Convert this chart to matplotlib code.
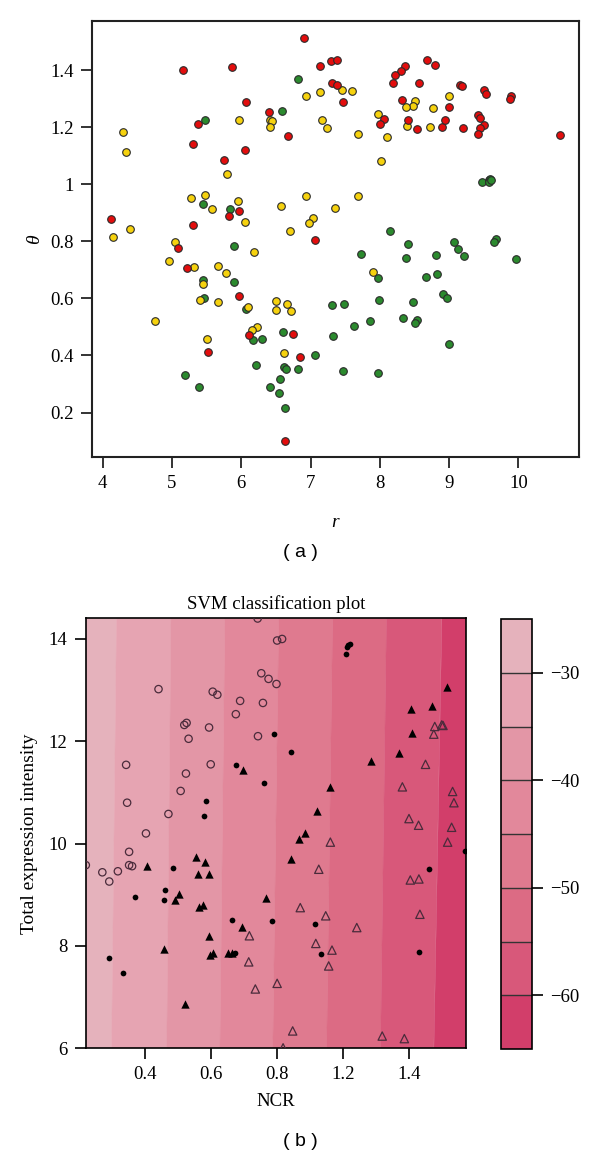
import numpy as np
import matplotlib.pyplot as plt
from matplotlib.colors import ListedColormap, BoundaryNorm
from matplotlib.cm import ScalarMappable

plt.rcParams['font.family'] = ['Liberation Serif', 'DejaVu Serif']

# ---- panel (a): r vs theta, three groups ----
red_r = [6.91, 5.155, 5.867, 7.137, 7.29, 7.38, 7.31, 7.38, 6.07, 6.405, 5.38, 6.68, 5.30, 6.05,
         5.75, 5.97, 5.82, 7.07, 4.12, 5.30, 5.08, 5.22, 5.97, 6.11, 6.74, 5.52, 6.84, 6.63, 7.47,
         8.685, 8.79, 8.365, 8.30, 8.22, 8.19, 8.56, 9.16, 9.18, 9.505, 9.53, 9.895, 9.88, 8.32,
         8.995, 8.06, 8.00, 8.41, 8.53, 8.89, 8.94, 9.20, 9.42, 9.45, 9.51, 9.45, 9.42, 10.60]
red_t = [1.514, 1.40, 1.412, 1.416, 1.434, 1.435, 1.357, 1.35, 1.289, 1.254, 1.213, 1.17, 1.141, 1.12,
         1.085, 0.906, 0.89, 0.805, 0.877, 0.857, 0.778, 0.706, 0.61, 0.471, 0.476, 0.413, 0.394, 0.10, 1.289,
         1.435, 1.418, 1.415, 1.398, 1.385, 1.357, 1.356, 1.35, 1.344, 1.331, 1.316, 1.309, 1.30, 1.297,
         1.272, 1.23, 1.21, 1.227, 1.193, 1.201, 1.224, 1.197, 1.243, 1.233, 1.208, 1.198, 1.175, 1.173]

yellow_r = [6.93, 7.13, 5.97, 6.415, 6.45, 6.42, 7.16, 7.24, 4.29, 4.33, 5.79, 5.275, 5.48, 5.57,
            5.95, 6.05, 6.57, 6.93, 7.35, 7.04, 6.97, 6.70, 4.15, 4.39, 5.04, 6.18, 4.96, 5.32, 5.66,
            5.78, 5.45, 5.40, 5.66, 6.10, 4.755, 6.50, 6.655, 6.50, 6.72, 6.23, 6.15, 5.50, 6.61,
            7.45, 7.60, 7.68, 8.50, 8.475, 8.38, 9.00, 8.76, 7.97, 8.39, 8.72, 8.11, 8.02, 7.68, 7.90]
yellow_t = [1.311, 1.324, 1.227, 1.225, 1.223, 1.20, 1.225, 1.196, 1.183, 1.114, 1.037, 0.953, 0.962, 0.912,
            0.942, 0.869, 0.924, 0.959, 0.918, 0.882, 0.863, 0.837, 0.815, 0.843, 0.798, 0.764, 0.731, 0.711, 0.714,
            0.69, 0.651, 0.595, 0.589, 0.571, 0.521, 0.591, 0.58, 0.559, 0.555, 0.499, 0.489, 0.457, 0.407,
            1.33, 1.326, 1.176, 1.294, 1.274, 1.272, 1.309, 1.268, 1.247, 1.205, 1.20, 1.165, 1.081, 0.958, 0.692]

green_r = [6.815, 6.58, 5.47, 5.44, 5.84, 5.89, 5.45, 5.90, 5.46, 6.07, 7.31, 6.165, 6.295, 6.60,
           7.33, 7.065, 6.21, 6.62, 6.64, 6.815, 5.19, 5.395, 6.415, 6.56, 6.54, 6.63,
           9.47, 9.57, 9.59, 9.58, 9.61, 8.15, 8.40, 9.07, 9.13, 9.215, 9.68, 9.65, 7.73, 8.37,
           8.81, 9.96, 7.98, 8.66, 8.83, 7.48, 7.99, 8.48, 8.91, 8.97, 7.63, 7.86, 8.335, 8.54,
           8.51, 9.00, 7.47, 7.98]
green_t = [1.368, 1.257, 1.225, 0.931, 0.912, 0.784, 0.665, 0.659, 0.603, 0.563, 0.578, 0.455, 0.458, 0.484,
           0.469, 0.402, 0.368, 0.358, 0.352, 0.352, 0.332, 0.291, 0.291, 0.318, 0.27, 0.215,
           1.007, 1.017, 1.019, 1.007, 1.015, 0.837, 0.79, 0.799, 0.773, 0.748, 0.81, 0.799, 0.756, 0.741,
           0.753, 0.737, 0.673, 0.674, 0.687, 0.582, 0.595, 0.589, 0.616, 0.603, 0.504, 0.522, 0.531, 0.525,
           0.515, 0.44, 0.344, 0.34]

# ---- panel (b): SVM classification plot ----
levels = [-65, -60, -55, -50, -45, -40, -35, -30, -25]
band_colors = ['#d23e6a', '#d8587a', '#dc6b84', '#df7a8f', '#e2889b', '#e396a6', '#e6a4b2', '#e5b2bc']
# x position of contour lines (-30 ... -60) at top and bottom of the plot
edge_top = [0.314, 0.479, 0.642, 0.805, 0.968, 1.131, 1.298]
edge_bot = [0.299, 0.466, 0.627, 0.787, 0.950, 1.113, 1.274]

open_circ = [(0.741, 14.40), (0.80, 13.97), (0.815, 14.0), (0.441, 13.02), (0.605, 12.97), (0.619, 12.91),
             (0.752, 13.33), (0.774, 13.22), (0.798, 13.12), (0.688, 12.79), (0.675, 12.53), (0.757, 12.75),
             (0.519, 12.32), (0.526, 12.36), (0.594, 12.27), (0.532, 12.05), (0.742, 12.10), (0.343, 11.54),
             (0.599, 11.55), (0.524, 11.37), (0.508, 11.03), (0.346, 10.80), (0.471, 10.58), (0.403, 10.20),
             (0.352, 9.84), (0.352, 9.58), (0.361, 9.56), (0.221, 9.58), (0.271, 9.44), (0.318, 9.46),
             (0.292, 9.26)]
dots = [(0.792, 12.14), (0.675, 11.53), (0.759, 11.18), (0.584, 10.83), (0.579, 10.55), (1.015, 13.88),
        (1.022, 13.90), (1.012, 13.85), (1.009, 13.71), (0.841, 11.80), (1.369, 9.86), (1.261, 9.50),
        (0.785, 8.49), (0.915, 8.42), (0.933, 7.84), (1.230, 7.89), (0.486, 9.52), (0.461, 9.09),
        (0.457, 8.90), (0.371, 8.96), (0.662, 8.51), (0.672, 7.87), (0.292, 7.77), (0.333, 7.48)]
filled_tri = [(0.696, 11.43), (1.314, 13.06), (1.205, 12.64), (1.270, 12.69), (1.209, 12.16), (1.170, 11.77),
              (1.085, 11.62), (0.960, 11.11), (0.921, 10.64), (0.884, 10.20), (0.866, 10.10), (0.841, 9.70),
              (0.765, 8.94), (0.407, 9.57), (0.555, 9.74), (0.581, 9.64), (0.559, 9.41), (0.594, 9.41),
              (0.503, 9.01), (0.491, 8.90), (0.575, 8.81), (0.564, 8.77), (0.693, 8.37), (0.593, 8.20),
              (0.458, 7.95), (0.605, 7.86), (0.597, 7.82), (0.650, 7.87), (0.662, 7.87), (0.522, 6.87)]
open_tri = [(1.277, 12.29), (1.298, 12.32), (1.302, 12.31), (1.274, 12.14), (1.249, 11.55), (1.179, 11.11),
            (1.331, 11.02), (1.335, 10.80), (1.199, 10.49), (1.228, 10.36), (1.328, 10.32), (1.316, 10.03),
            (0.961, 10.03), (0.926, 9.50), (1.203, 9.29), (1.229, 9.31), (0.870, 8.75), (0.947, 8.59),
            (1.232, 8.62), (1.041, 8.36), (0.917, 8.05), (0.966, 7.92), (0.956, 7.61), (0.80, 7.27),
            (0.847, 6.34), (1.118, 6.24), (1.185, 6.19), (0.818, 6.01), (0.716, 8.20), (0.714, 7.69),
            (0.734, 7.16)]
ncr_ticks = [0.4, 0.6, 0.8, 1.0, 1.2]
ncr_labels = ['0.4', '0.6', '0.8', '1.2', '1.4']
cbar_ticks = [-30, -40, -50, -60]

fig = plt.figure(figsize=(6, 11.63), dpi=100)

# panel a
ax1 = fig.add_axes([0.1528, 0.6073, 0.8117, 0.3747])
pt = dict(s=30, edgecolors='#2a2a2a', linewidths=0.8, zorder=3)
ax1.scatter(green_r, green_t, c='#2b8a2e', **pt)
ax1.scatter(yellow_r, yellow_t, c='#f6d20e', **pt)
ax1.scatter(red_r, red_t, c='#e30d0d', **pt)
ax1.set_xlim(3.84, 10.87)
ax1.set_ylim(0.045, 1.573)
ax1.set_xticks([4, 5, 6, 7, 8, 9, 10])
ax1.set_yticks([0.2, 0.4, 0.6, 0.8, 1.0, 1.2, 1.4])
ax1.set_yticklabels(['0.2', '0.4', '0.6', '0.8', '1', '1.2', '1.4'])
ax1.tick_params(length=8, width=1.4, labelsize=13.5, color='#333333', pad=5)
for s in ax1.spines.values():
    s.set_linewidth(1.5)
    s.set_color('#222222')
ax1.set_xlabel('r', fontsize=14, style='italic', labelpad=16)
ax1.set_ylabel('θ', fontsize=14, style='italic', labelpad=5, rotation=90)
fig.text(0.5, 1 - 553 / 1163, '( a )', ha='center', va='center', fontsize=14, family='Liberation Sans')

# panel b
ax2 = fig.add_axes([0.1428, 0.0986, 0.6339, 0.3698])
xmin, xmax = 0.2206, 1.3716
ymin, ymax = 6.0, 14.405
lt = [xmin - 0.05] + edge_top + [xmax + 0.05]
lb = [xmin - 0.05] + edge_bot + [xmax + 0.05]
for i in range(len(band_colors)):
    c = band_colors[::-1][i]
    ax2.fill([lt[i], lt[i + 1], lb[i + 1], lb[i]], [ymax, ymax, ymin, ymin],
             facecolor=c, edgecolor=c, linewidth=0.3, zorder=1)

ms = dict(zorder=3, clip_on=True)
x, y = zip(*open_circ)
ax2.scatter(x, y, s=28, facecolors='none', edgecolors='#4a2b3b', linewidths=0.9, **ms)
x, y = zip(*open_tri)
ax2.scatter(x, y, s=36, marker='^', facecolors='none', edgecolors='#4a2b3b', linewidths=0.9, **ms)
x, y = zip(*filled_tri)
ax2.scatter(x, y, s=36, marker='^', c='black', linewidths=0, **ms)
x, y = zip(*dots)
ax2.scatter(x, y, s=17, c='black', linewidths=0, **ms)

ax2.set_xlim(xmin, xmax)
ax2.set_ylim(ymin, ymax)
ax2.set_xticks(ncr_ticks)
ax2.set_xticklabels(ncr_labels)
ax2.set_yticks([6, 8, 10, 12, 14])
ax2.tick_params(length=8, width=1.2, labelsize=13.5, pad=5)
for s in ax2.spines.values():
    s.set_linewidth(1.2)
ax2.set_xlabel('NCR', fontsize=13.5, labelpad=7)
ax2.set_ylabel('Total expression intensity', fontsize=14, labelpad=8)
ax2.set_title('SVM classification plot', fontsize=13.5, pad=7)

cax = fig.add_axes([0.8345, 0.098, 0.0527, 0.3697])
sm = ScalarMappable(norm=BoundaryNorm(levels, len(band_colors)), cmap=ListedColormap(band_colors))
cb = fig.colorbar(sm, cax=cax, drawedges=True, ticks=cbar_ticks)
cb.minorticks_off()
cb.outline.set_linewidth(1.2)
cb.dividers.set_color('#333333')
cb.dividers.set_linewidth(1.0)
cax.tick_params(length=8, width=1.2, labelsize=13.5, pad=5)
fig.text(0.5, 1 - 1142 / 1163, '( b )', ha='center', va='center', fontsize=14, family='Liberation Sans')

fig.savefig('out.png', dpi=100)
